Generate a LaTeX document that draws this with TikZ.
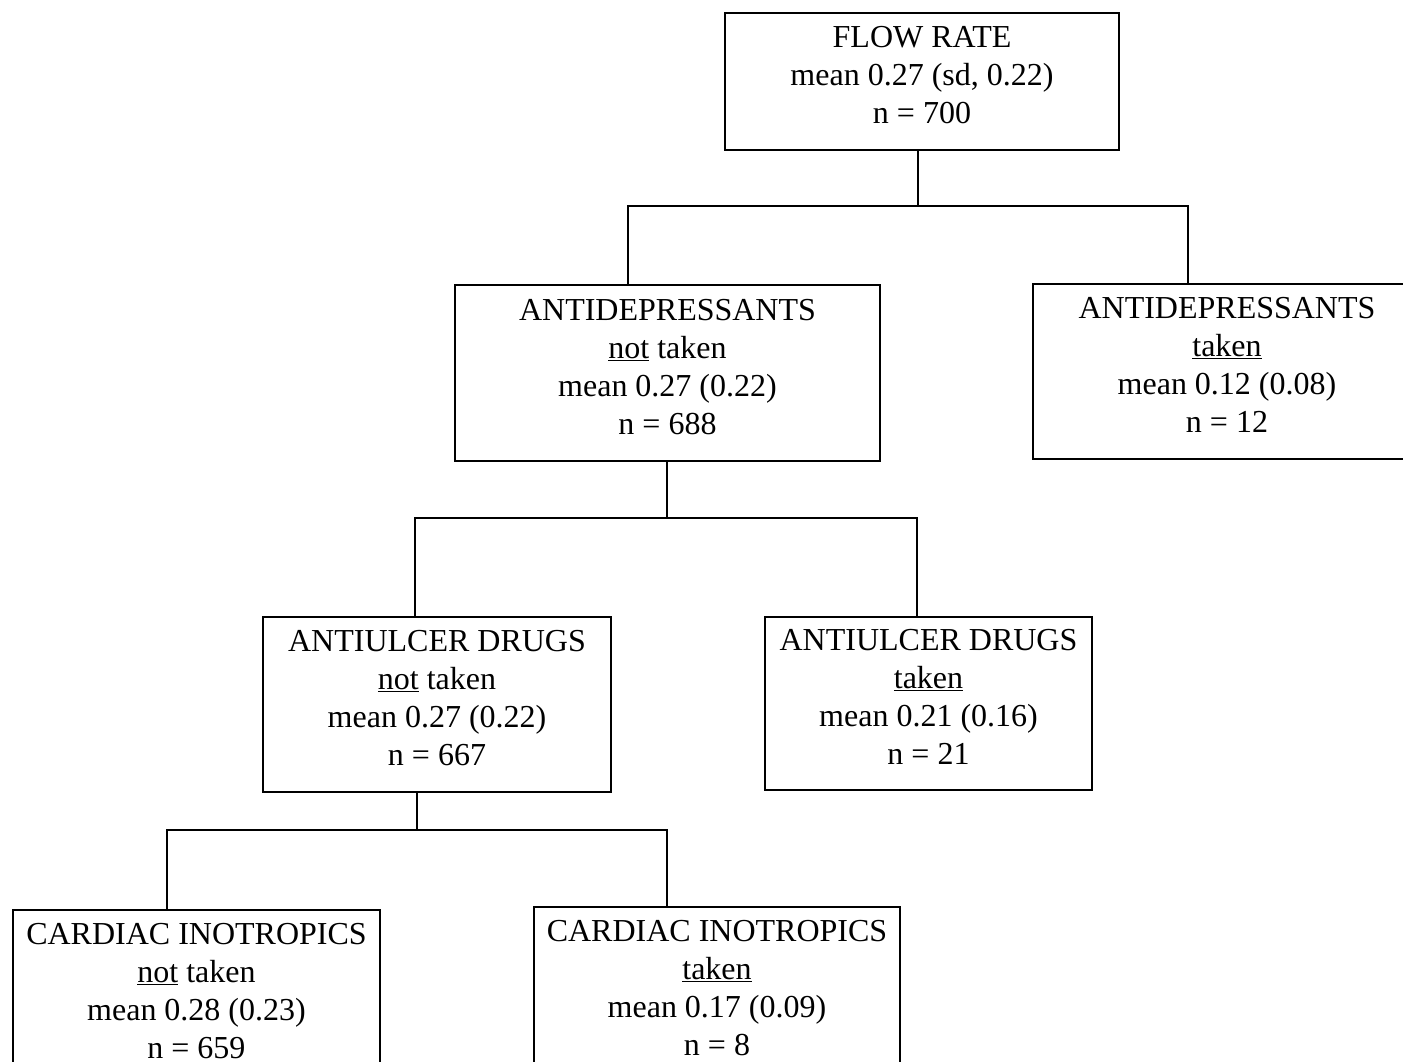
\documentclass[tikz,border=0pt]{standalone}
\usepackage{fontspec}
\setmainfont{Liberation Serif}
\begin{document}
\begin{tikzpicture}[x=1pt,y=-1pt,
  treebox/.style={draw, line width=2pt, rectangle, inner sep=0pt, align=center,
    font=\fontsize{32}{38}\selectfont, text depth=13pt},
  link/.style={line width=2pt}]
\useasboundingbox (0,0) rectangle (1403,1061);
\clip (0,0) rectangle (1403,1061);
\fill[white] (0,0) rectangle (1403,1061);

\node[treebox, minimum width=394pt, minimum height=137pt] (top) at (922,81.5)
  {FLOW RATE\\mean 0.27 (sd, 0.22)\\n = 700};
\node[treebox, minimum width=425pt, minimum height=176pt] (ad0) at (667.5,373)
  {ANTIDEPRESSANTS\\\underline{not} taken\\mean 0.27 (0.22)\\n = 688};
\node[treebox, minimum width=388pt, minimum height=175pt] (ad1) at (1227,371.5)
  {ANTIDEPRESSANTS\\\underline{taken}\\mean 0.12 (0.08)\\n = 12};
\node[treebox, minimum width=348pt, minimum height=175pt] (au0) at (437,704.5)
  {ANTIULCER DRUGS\\\underline{not} taken\\mean 0.27 (0.22)\\n = 667};
\node[treebox, minimum width=327pt, minimum height=173pt] (au1) at (928.5,703.5)
  {ANTIULCER DRUGS\\\underline{taken}\\mean 0.21 (0.16)\\n = 21};
\node[treebox, minimum width=367pt, minimum height=175pt] (ci0) at (196.5,997.5)
  {CARDIAC INOTROPICS\\\underline{not} taken\\mean 0.28 (0.23)\\n = 659};
\node[treebox, minimum width=366pt, minimum height=175pt] (ci1) at (717,994.5)
  {CARDIAC INOTROPICS\\\underline{taken}\\mean 0.17 (0.09)\\n = 8};

\coordinate (b1) at (918,206);
\coordinate (b2) at (667,518);
\coordinate (b3) at (417,830);

\draw[link] ([xshift=-4pt]top.south) -- (b1);
\draw[link] ([xshift=-39.5pt]ad0.north) |- (b1) -| ([xshift=-39pt]ad1.north);
\draw[link] ([xshift=-0.5pt]ad0.south) -- (b2);
\draw[link] ([xshift=-22pt]au0.north) |- (b2) -| ([xshift=-11.5pt]au1.north);
\draw[link] ([xshift=-20pt]au0.south) -- (b3);
\draw[link] ([xshift=-29.5pt]ci0.north) |- (b3) -| ([xshift=-50pt]ci1.north);
\end{tikzpicture}
\end{document}
